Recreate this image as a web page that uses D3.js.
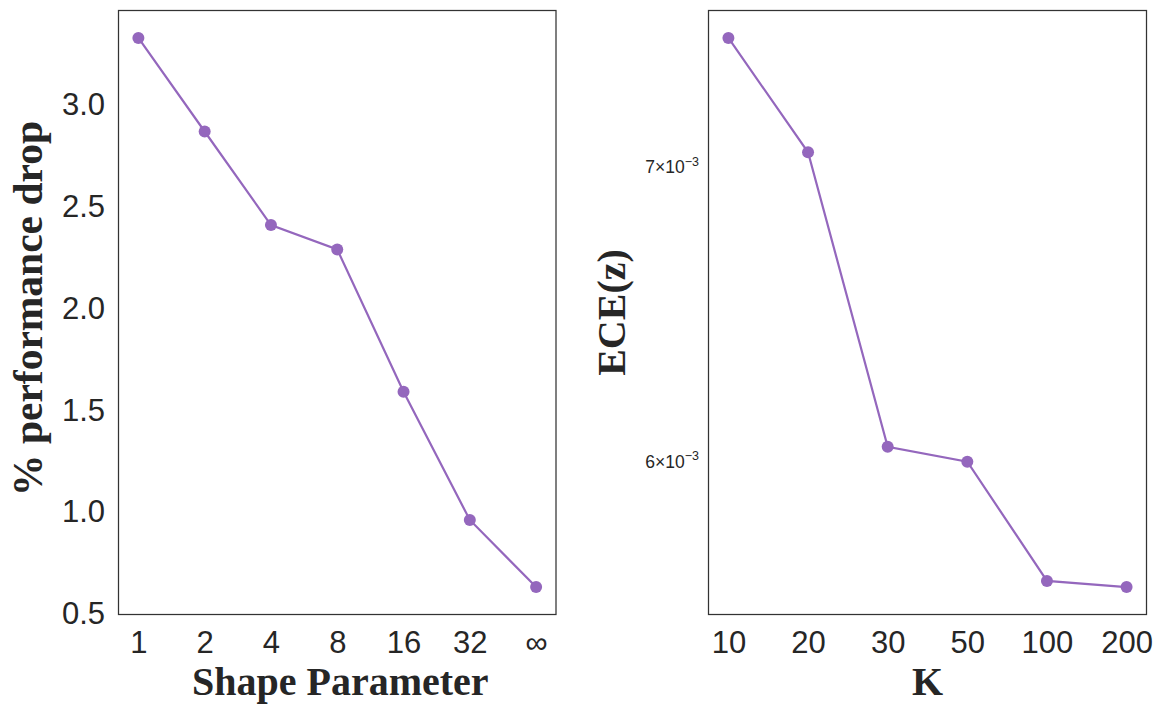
<!DOCTYPE html>
<html>
<head>
<meta charset="utf-8">
<script src="https://cdn.jsdelivr.net/npm/d3@7"></script>
<style>
  html, body { margin: 0; padding: 0; background: #fff; }
  svg { display: block; }
</style>
</head>
<body>
<svg id="chart" width="1158" height="705"></svg>
<script>
// Left panel: performance drop vs. shape parameter
const shapeLabels = ["1", "2", "4", "8", "16", "32", "\u221e"];
const perfDrop = [3.33, 2.87, 2.41, 2.29, 1.59, 0.96, 0.63];
const perfTicks = [0.5, 1.0, 1.5, 2.0, 2.5, 3.0];

// Right panel: ECE(z) vs. K (log scale)
const kLabels = ["10", "20", "30", "50", "100", "200"];
const eceValues = [7.486e-3, 7.051e-3, 6.044e-3, 5.997e-3, 5.634e-3, 5.616e-3];
const eceTicks = [6e-3, 7e-3];

const svg = d3.select("#chart");
const purple = "#9467bd";
const frameColor = "#333333";
const textColor = "#262626";
const tickFont = "'Liberation Sans', Arial, sans-serif";
const labelFont = "'Liberation Serif', 'Times New Roman', serif";

function padLinear(ext, frac) {
  const s = ext[1] - ext[0];
  return [ext[0] - s * frac, ext[1] + s * frac];
}

function panel(opt) {
  const { left, top, width, height } = opt;
  const g = svg.append("g").attr("transform", `translate(${left},${top})`);
  const n = opt.labels.length;
  const x = d3.scaleLinear().domain([-0.05 * (n - 1), (n - 1) * 1.05]).range([0, width]);
  let y;
  if (opt.log) {
    const le = d3.extent(opt.values, v => Math.log10(v));
    const p = padLinear(le, 0.05);
    y = d3.scaleLog().domain([Math.pow(10, p[0]), Math.pow(10, p[1])]).range([height, 0]);
  } else {
    y = d3.scaleLinear().domain(padLinear(d3.extent(opt.values), 0.05)).range([height, 0]);
  }

  // x tick labels
  const xAxis = d3.axisBottom(x)
    .tickValues(d3.range(n))
    .tickSize(0).tickPadding(0)
    .tickFormat(i => opt.labels[i]);
  const xa = g.append("g").attr("transform", `translate(0,${height})`).call(xAxis);
  xa.select(".domain").remove();
  xa.selectAll("text").attr("y", 38.5).attr("dy", null)
    .attr("font-family", tickFont).attr("font-size", 31).attr("fill", textColor);

  // y tick labels
  if (opt.log) {
    const ya = g.append("g");
    const t = ya.selectAll("text").data(opt.ticks).join("text")
      .attr("x", -9.5).attr("y", d => y(d))
      .attr("text-anchor", "end").attr("dy", "0.4em")
      .attr("font-family", tickFont).attr("font-size", 17.5).attr("fill", textColor);
    t.append("tspan").text(d => `${Math.round(d * 1000)}\u00d710`);
    t.append("tspan").attr("dy", "-0.6em").attr("font-size", 12.5).text("\u22123");
  } else {
    const yAxis = d3.axisLeft(y).tickValues(opt.ticks).tickSize(0).tickPadding(13.5)
      .tickFormat(d3.format(".1f"));
    const ya = g.append("g").call(yAxis);
    ya.select(".domain").remove();
    ya.selectAll("text").attr("font-family", tickFont).attr("font-size", 31).attr("fill", textColor);
  }

  // frame
  g.append("rect").attr("x", 0).attr("y", 0).attr("width", width).attr("height", height)
    .attr("fill", "none").attr("stroke", frameColor).attr("stroke-width", 1.25);

  // line and markers
  const line = d3.line().x((d, i) => x(i)).y(d => y(d));
  g.append("path").datum(opt.values).attr("d", line)
    .attr("fill", "none").attr("stroke", purple).attr("stroke-width", 2.2);
  g.selectAll("circle.pt").data(opt.values).join("circle")
    .attr("class", "pt").attr("cx", (d, i) => x(i)).attr("cy", d => y(d))
    .attr("r", 6).attr("fill", purple);

  // axis titles
  g.append("text").attr("x", width / 2 + opt.xTitleShift).attr("y", height + 80.5)
    .attr("text-anchor", "middle").attr("font-family", labelFont)
    .attr("font-weight", "bold").attr("font-size", 40).attr("fill", textColor)
    .text(opt.xTitle);
  g.append("text")
    .attr("transform", `translate(${opt.yTitleX},${height / 2 + opt.yTitleShift}) rotate(-90)`)
    .attr("text-anchor", "middle").attr("font-family", labelFont)
    .attr("font-weight", "bold").attr("font-size", opt.yTitleSize).attr("fill", textColor)
    .text(opt.yTitle);
}

panel({
  left: 118.5, top: 10.5, width: 437.5, height: 604,
  labels: shapeLabels, values: perfDrop, ticks: perfTicks, log: false,
  xTitle: "Shape Parameter", yTitle: "% performance drop",
  xTitleShift: 3, yTitleX: -76.5, yTitleShift: -4, yTitleSize: 41.5
});

panel({
  left: 708.5, top: 10.5, width: 438, height: 604,
  labels: kLabels, values: eceValues, ticks: eceTicks, log: true,
  xTitle: "K", yTitle: "ECE(z)",
  xTitleShift: 0, yTitleX: -83.5, yTitleShift: 0, yTitleSize: 40
});
</script>
</body>
</html>
